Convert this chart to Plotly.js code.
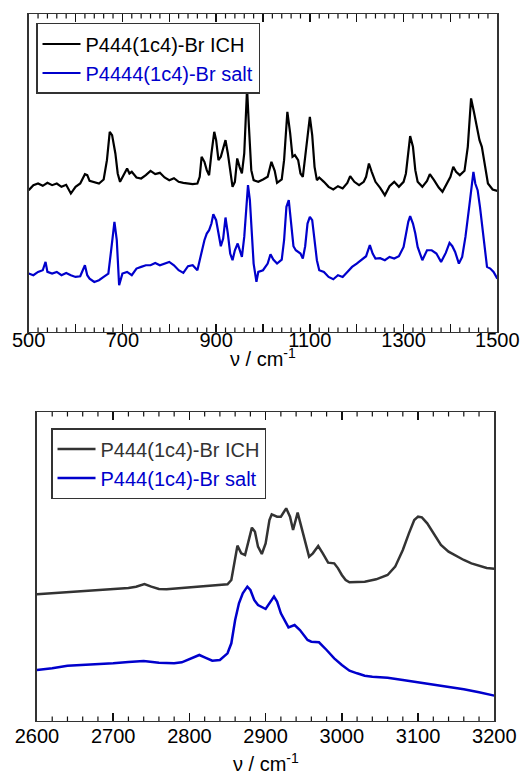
<!DOCTYPE html>
<html><head><meta charset="utf-8">
<script src="https://cdn.plot.ly/plotly-3.0.1.min.js"></script>
<style>html,body{margin:0;padding:0;background:#fff}</style>
</head><body><div id="chart" style="width:532px;height:774px"></div>
<script>
// ---- Top panel: 500-1500 cm-1 ----
const topIchX = [500,510,520,530,540,550,560,570,580,590,600,610,620,625,630,640,650,660,667,673,678,685,690,695,700,710,715,720,730,740,750,760,770,780,790,800,810,820,830,840,850,860,865,869,875,880,885,890,896,900,905,910,915,920,925,930,935,940,945,950,955,960,966,970,975,980,990,1000,1010,1018,1025,1030,1040,1045,1048,1052,1058,1063,1068,1075,1080,1085,1090,1095,1100,1105,1110,1115,1120,1130,1140,1150,1160,1170,1180,1186,1195,1205,1215,1220,1226,1232,1240,1250,1260,1270,1280,1290,1300,1305,1310,1314,1320,1325,1330,1340,1350,1356,1365,1375,1383,1390,1400,1406,1412,1420,1430,1437,1444,1450,1456,1462,1467,1472,1480,1490,1500];
const topIchY = [430,445,450,443,452,445,450,440,446,420,440,450,478,475,458,455,450,462,520,605,595,540,480,455,470,495,480,485,468,465,475,488,478,482,468,460,466,455,452,450,448,450,470,530,515,490,475,540,605,580,520,530,555,580,540,495,440,455,525,500,480,540,735,620,490,460,455,462,470,515,488,452,462,520,600,665,600,530,535,520,480,470,530,600,650,595,500,460,468,455,440,432,442,435,452,472,455,445,455,470,510,485,455,437,415,442,455,440,455,480,550,592,560,490,455,440,458,478,460,438,425,445,470,500,485,475,488,560,705,665,620,580,560,520,450,432,428];

const topSaltX = [500,510,520,530,536,540,550,560,570,580,590,600,610,620,625,630,640,650,660,670,676,683,688,693,700,710,720,730,740,750,760,770,780,790,800,810,820,830,840,850,860,865,870,875,880,885,890,894,900,905,910,915,920,925,930,935,940,946,950,955,960,968,972,976,980,986,990,1000,1010,1016,1022,1030,1040,1045,1050,1055,1060,1065,1070,1080,1085,1090,1095,1100,1105,1110,1115,1120,1130,1140,1150,1160,1170,1180,1190,1200,1210,1220,1228,1234,1240,1250,1260,1270,1280,1290,1300,1305,1310,1314,1320,1325,1330,1340,1345,1350,1360,1370,1380,1390,1398,1404,1410,1418,1425,1432,1440,1445,1449,1453,1458,1463,1468,1473,1478,1485,1492,1500];
const topSaltY = [180,175,185,190,215,185,180,185,175,182,175,170,172,205,175,165,155,160,170,180,250,335,280,145,180,185,175,195,200,205,205,212,205,210,215,205,190,182,202,205,190,220,250,280,300,310,330,358,340,300,262,285,348,300,240,220,250,270,250,230,290,445,400,300,210,155,185,190,210,238,222,210,222,280,380,400,340,262,250,240,225,262,330,350,340,280,220,190,185,170,163,175,170,185,200,210,220,232,265,240,225,226,220,230,225,232,260,300,335,352,330,300,260,220,238,250,250,240,215,242,272,262,245,210,230,290,380,450,485,450,430,380,320,250,200,195,185,165];

// major tick values and the labels shown on them ('' = unlabeled major tick)
const topTickVals = [500,600,700,800,900,1000,1100,1200,1300,1400,1500];
const topTickText = ['500','','700','','900','','1100','','1300','','1500'];

// ---- Bottom panel: 2600-3200 cm-1 ----
const botIchX = [2600,2620,2640,2660,2680,2700,2720,2730,2741,2750,2760,2770,2780,2800,2820,2840,2850,2855,2860,2863,2868,2873,2882,2886,2890,2895,2900,2905,2908,2915,2920,2927,2932,2936,2942,2948,2957,2962,2969,2975,2982,2990,2995,3000,3005,3010,3030,3045,3060,3070,3080,3088,3095,3100,3105,3112,3120,3130,3140,3150,3160,3170,3180,3190,3200];
const botIchY = [357,360,364,367,370,372,376,380,388,380,373,372,374,376,380,384,387,400,460,503,480,475,557,545,500,478,510,580,597,590,590,615,590,550,602,550,470,480,502,480,452,450,435,415,400,393,395,402,415,440,490,540,580,590,588,570,540,505,485,472,460,450,442,436,434];

const botSaltX = [2600,2620,2640,2660,2680,2700,2720,2740,2760,2780,2790,2800,2813,2820,2830,2840,2850,2855,2860,2865,2870,2876,2880,2885,2890,2900,2905,2911,2915,2920,2930,2938,2945,2955,2960,2970,2980,2990,3000,3010,3020,3030,3040,3060,3080,3100,3120,3140,3160,3180,3200];
const botSaltY = [130,135,143,145,148,150,154,157,152,150,153,162,175,168,158,160,180,210,280,330,360,380,370,340,325,313,330,350,335,300,258,265,250,220,215,213,190,165,145,128,120,113,110,107,100,93,85,80,72,63,53];

const botTickVals = [2600,2700,2800,2900,3000,3100,3200];
const botTickText = ['2600','2700','2800','2900','3000','3100','3200'];

const MINOR_STEP = 20;

const FONT = 'Arial, "Liberation Sans", sans-serif';
const BLUE = '#0000cc';
const AXIS_TITLE = 'ν / cm<sup>-1</sup>';
const H = 774;
const TOP_DOM_X = [0.0539, 0.9348], TOP_DOM_Y = [0.5711, 0.9819];
const BOT_DOM_X = [0.0695, 0.9291], BOT_DOM_Y = [0.0685, 0.4677];

const traces = [
  {x: topIchX, y: topIchY, type:'scatter', mode:'lines', name:'P444(1c4)-Br ICH',
   line:{color:'#000000', width:2.2}, xaxis:'x', yaxis:'y', legend:'legend'},
  {x: topSaltX, y: topSaltY, type:'scatter', mode:'lines', name:'<span style="color:#0000cc">P4444(1c4)-Br salt</span>',
   line:{color:BLUE, width:2.2}, xaxis:'x', yaxis:'y', legend:'legend'},
  {x: botIchX, y: botIchY, type:'scatter', mode:'lines', name:'<span style="color:#333333">P444(1c4)-Br ICH</span>',
   line:{color:'#333333', width:2.5}, xaxis:'x2', yaxis:'y2', legend:'legend2'},
  {x: botSaltX, y: botSaltY, type:'scatter', mode:'lines', name:'<span style="color:#0000cc">P444(1c4)-Br salt</span>',
   line:{color:BLUE, width:2.5}, xaxis:'x2', yaxis:'y2', legend:'legend2'}
];

function aliasFrom(vals, texts) {
  const a = {};
  vals.forEach((v, i) => { if (texts[i] !== String(v)) a[String(v)] = texts[i] === '' ? ' ' : texts[i]; });
  return a;
}

function xax(domain, vals, texts, anchor, standoff) {
  return {
    domain: domain, range: [vals[0], vals[vals.length - 1]], anchor: anchor,
    tickmode:'linear', tick0: vals[0], dtick: vals[1] - vals[0],
    labelalias: aliasFrom(vals, texts),
    ticks:'inside', ticklen:8, tickwidth:1.5, tickcolor:'#111',
    ticklabelstandoff: standoff,
    showline:true, linecolor:'#333', linewidth:1.5, mirror:'allticks',
    showgrid:false, zeroline:false,
    tickfont:{family:FONT, size:20, color:'#000'}
  };
}
function yax(domain, range, anchor) {
  return {
    domain: domain, range: range, anchor: anchor,
    showticklabels:false, ticks:'', showline:true, linecolor:'#333', linewidth:1.5,
    mirror:true, showgrid:false, zeroline:false
  };
}

// inside minor tick marks (every MINOR_STEP, between the majors) on bottom and top frame edges
function minorTickShapes(xref, yref, vals, domY) {
  const plotH = H * (domY[1] - domY[0]);
  const len = 4.5 / plotH;
  const majorStep = vals[1] - vals[0];
  const out = [];
  for (let v = vals[0] + MINOR_STEP; v < vals[vals.length - 1]; v += MINOR_STEP) {
    const r = (v - vals[0]) / majorStep;
    if (Math.abs(r - Math.round(r)) < 1e-6) continue;
    [[0, len], [1, 1 - len]].forEach(([a, b]) => out.push({
      type:'line', xref: xref, yref: yref + ' domain', x0: v, x1: v, y0: a, y1: b,
      line:{color:'#111', width: 1.2}, layer:'above'
    }));
  }
  return out;
}

const layout = {
  width:532, height:H,
  margin:{l:0, r:0, t:0, b:0},
  paper_bgcolor:'#fff', plot_bgcolor:'#fff',
  xaxis: xax(TOP_DOM_X, topTickVals, topTickText, 'y', -10),
  yaxis: yax(TOP_DOM_Y, [5, 958], 'x'),
  xaxis2: xax(BOT_DOM_X, botTickVals, botTickText, 'y2', -3),
  yaxis2: yax(BOT_DOM_Y, [-23, 904], 'x2'),
  shapes: minorTickShapes('x', 'y', topTickVals, TOP_DOM_Y).concat(minorTickShapes('x2', 'y2', botTickVals, BOT_DOM_Y)),
  annotations: [
    {text: AXIS_TITLE, xref:'x domain', yref:'paper', x:0.5, y:(H-357)/H, xanchor:'center', yanchor:'middle',
     showarrow:false, font:{family:FONT, size:20, color:'#000'}},
    {text: AXIS_TITLE, xref:'x2 domain', yref:'paper', x:0.5, y:(H-762)/H, xanchor:'center', yanchor:'middle',
     showarrow:false, font:{family:FONT, size:20, color:'#000'}}
  ],
  legend:{x:0.0677, y:0.9703, xanchor:'left', yanchor:'top', bgcolor:'#fff',
    bordercolor:'#333', borderwidth:1.5, font:{family:FONT, size:20, color:'#000'},
    tracegroupgap:0, itemwidth:38},
  legend2:{x:0.0959, y:0.447, xanchor:'left', yanchor:'top', bgcolor:'#fff',
    bordercolor:'#333', borderwidth:1.5, font:{family:FONT, size:20, color:'#333'},
    tracegroupgap:0, itemwidth:38},
  showlegend:true
};

Plotly.newPlot('chart', traces, layout, {displayModeBar:false, staticPlot:true});
</script>
</body></html>
